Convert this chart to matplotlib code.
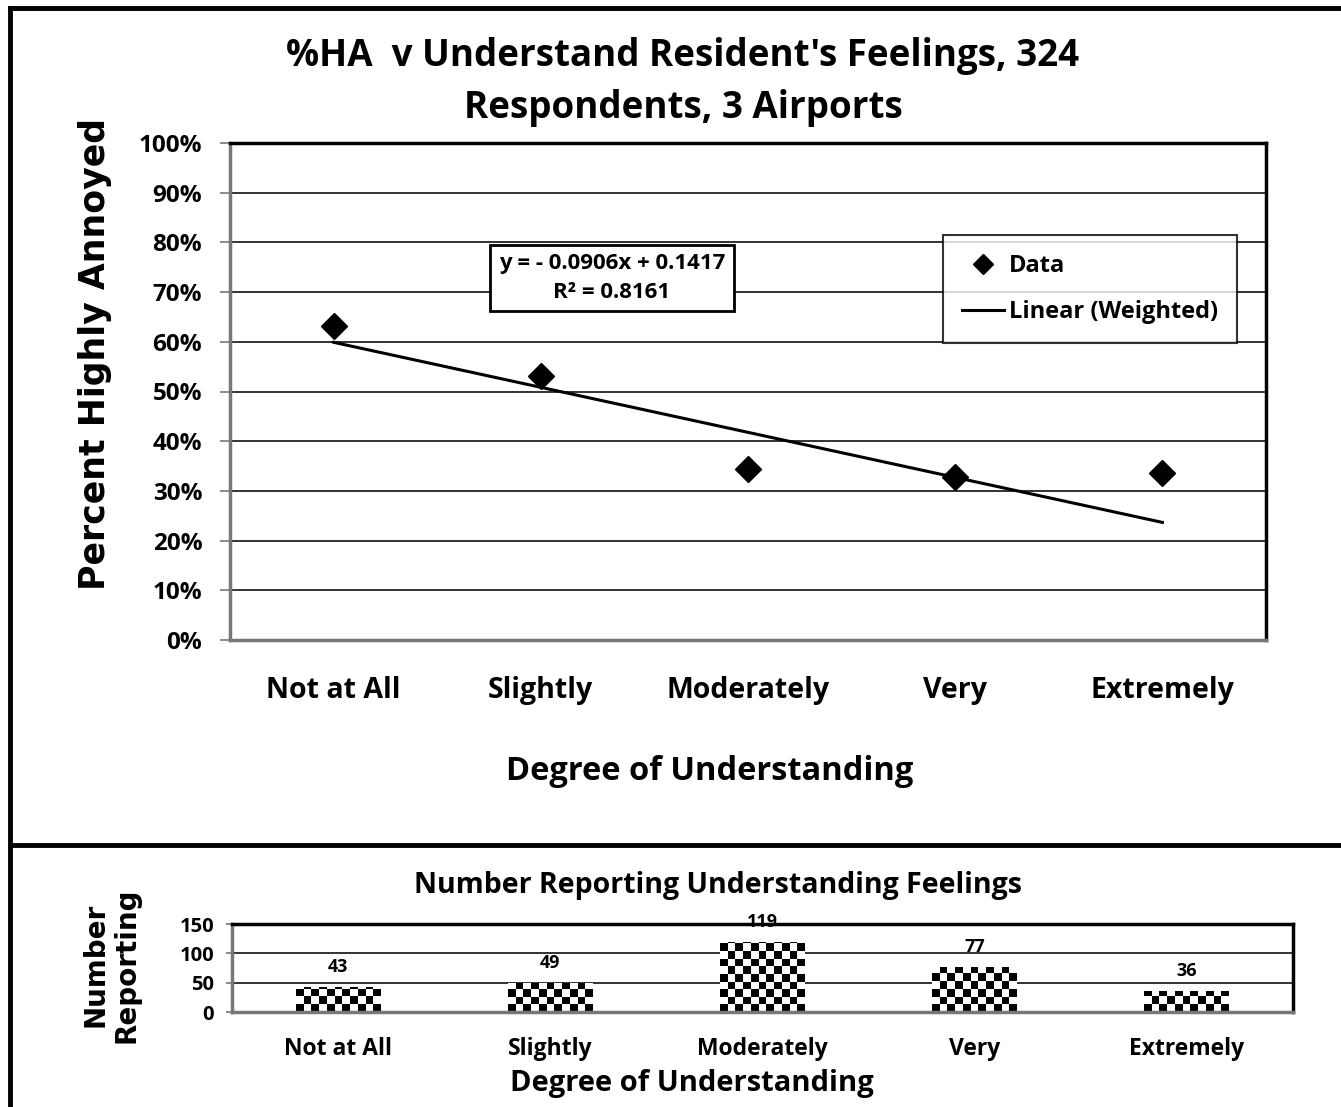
import numpy as np
import matplotlib
matplotlib.use("Agg")
import matplotlib.pyplot as plt
from matplotlib.lines import Line2D

# data
categories = ["Not at All", "Slightly", "Moderately", "Very", "Extremely"]
pct_ha = [0.631, 0.532, 0.345, 0.327, 0.337]
trend_slope = -0.0906
trend_at_first = 0.599
n_reporting = [43, 49, 119, 77, 36]
pct_ticks = [0, 0.1, 0.2, 0.3, 0.4, 0.5, 0.6, 0.7, 0.8, 0.9, 1.0]
count_ticks = [0, 50, 100, 150]

W, H = 1341, 1107
fig = plt.figure(figsize=(W / 100, H / 100), dpi=100)
FONT = "Open Sans"
WIDE = "DejaVu Sans"


def px_axes(left, top, right, bottom):
    return fig.add_axes([left / W, 1 - bottom / H, (right - left) / W, (bottom - top) / H])


def fig_xy(x, y):
    return x / W, 1 - y / H


# outer frame and divider
for xs, ys in [((10, W), (8, 8)), ((10, 10), (8, H)), ((10, W), (845, 845))]:
    fig.add_artist(Line2D([xs[0] / W, xs[1] / W], [1 - ys[0] / H, 1 - ys[1] / H],
                          color="black", lw=3.5, transform=fig.transFigure))

# ---------------- top chart ----------------
ax = px_axes(230, 143, 1266, 640)
x = np.arange(1, len(categories) + 1)
ax.plot(x, pct_ha, linestyle="none", marker="D", markersize=13, color="black", label="Data")
trend = trend_at_first + trend_slope * (x - x[0])
ax.plot(x, trend, color="black", lw=2.2, label="Linear (Weighted)")

ax.set_xlim(0.5, 5.5)
ax.set_ylim(0, 1)
ax.set_yticks(pct_ticks)
ax.set_yticklabels([f"{int(round(t * 100))}%" for t in pct_ticks], fontfamily=FONT,
                   fontweight="bold", fontsize=17.5)
ax.set_xticks(x)
ax.set_xticklabels(categories, fontfamily=FONT, fontweight="bold", fontsize=20.5)
ax.tick_params(axis="x", length=0, pad=26)
ax.tick_params(axis="y", length=7, width=1.2, color="#777777", pad=13)
ax.grid(axis="y", color="#222222", lw=1.3)
ax.set_axisbelow(True)
for side in ["top", "right"]:
    ax.spines[side].set_color("black")
    ax.spines[side].set_linewidth(2.5)
for side in ["left", "bottom"]:
    ax.spines[side].set_color("#777777")
    ax.spines[side].set_linewidth(2.5)

leg = ax.legend(loc="upper left", bbox_to_anchor=fig_xy(943, 235), bbox_transform=fig.transFigure,
                frameon=True, fancybox=False, handlelength=1.8, handletextpad=0.2,
                borderpad=0.8, labelspacing=0.95, borderaxespad=0,
                prop={"family": FONT, "weight": "bold", "size": 17})
leg.get_frame().set_edgecolor("black")
leg.get_frame().set_linewidth(1.5)
leg.legend_handles[0].set_markersize(10)

fig.text(*fig_xy(612, 278), "y = - 0.0906x + 0.1417\nR\u00b2 = 0.8161", ha="center", va="center",
         fontfamily=FONT, fontweight="bold", fontsize=16, linespacing=1.45,
         bbox=dict(boxstyle="square,pad=0.4", fc="white", ec="black", lw=2))

fig.text(*fig_xy(683, 82), "%HA  v Understand Resident's Feelings, 324\nRespondents, 3 Airports",
         ha="center", va="center", fontfamily=FONT, fontweight="bold", fontsize=26.5, linespacing=1.5)
fig.text(*fig_xy(710, 772), "Degree of Understanding", ha="center", va="center",
         fontfamily=FONT, fontweight="bold", fontsize=23.5)
fig.text(*fig_xy(95, 354), "Percent Highly Annoyed", ha="center", va="center", rotation=90,
         fontfamily=WIDE, fontweight="bold", fontsize=25)

# ---------------- bottom chart ----------------
bx = px_axes(232, 924, 1293, 1012)
xb = np.arange(len(categories))
bars = bx.bar(xb, n_reporting, width=0.4, color="none", edgecolor="none", zorder=2)
bx.set_xlim(-0.5, 4.5)
bx.set_ylim(0, 150)
bx.set_yticks(count_ticks)
bx.set_yticklabels([str(t) for t in count_ticks], fontfamily=FONT, fontweight="bold", fontsize=14.5)
bx.set_xticks(xb)
bx.set_xticklabels(categories, fontfamily=FONT, fontweight="bold", fontsize=16.5)
bx.tick_params(axis="x", length=0, pad=18)
bx.tick_params(axis="y", length=4, width=1.2, color="#777777", pad=9)
bx.grid(axis="y", color="#222222", lw=1.3)
bx.set_axisbelow(True)
for side in ["top", "right"]:
    bx.spines[side].set_color("black")
    bx.spines[side].set_linewidth(2.5)
for side in ["left", "bottom"]:
    bx.spines[side].set_color("#777777")
    bx.spines[side].set_linewidth(2.5)

# checkerboard fill clipped to each bar
fig.canvas.draw()
cell = 7.6
for rect in bars:
    x0, y0 = rect.get_x(), rect.get_y()
    w, h = rect.get_width(), rect.get_height()
    p0 = bx.transData.transform((x0, y0))
    p1 = bx.transData.transform((x0 + w, y0 + h))
    nx = max(1, int(round((p1[0] - p0[0]) / cell)))
    ny = int(np.ceil((p1[1] - p0[1]) / cell))
    cell_h = cell * h / (p1[1] - p0[1])
    ii, jj = np.indices((ny, nx))
    checker = ((ii + jj) % 2).astype(float)
    im = bx.imshow(checker, cmap="gray", interpolation="nearest", aspect="auto",
                   origin="lower", extent=(x0, x0 + w, y0, y0 + ny * cell_h), zorder=2)
    im.set_clip_path(rect)
    bx.annotate(str(rect.get_height()), (x0 + w / 2, y0 + h), xytext=(0, 8),
                textcoords="offset points", ha="center", va="bottom",
                fontfamily=FONT, fontweight="bold", fontsize=13)
bx.set_xlim(-0.5, 4.5)
bx.set_ylim(0, 150)

fig.text(*fig_xy(718, 885), "Number Reporting Understanding Feelings", ha="center", va="center",
         fontfamily=FONT, fontweight="bold", fontsize=20.5)
fig.text(*fig_xy(692, 1083), "Degree of Understanding", ha="center", va="center",
         fontfamily=FONT, fontweight="bold", fontsize=21)
fig.text(*fig_xy(111, 965), "Number\nReporting", ha="center", va="center", rotation=90,
         fontfamily=WIDE, fontweight="bold", fontsize=20, linespacing=1.1)

fig.savefig("out.png", dpi=100)
